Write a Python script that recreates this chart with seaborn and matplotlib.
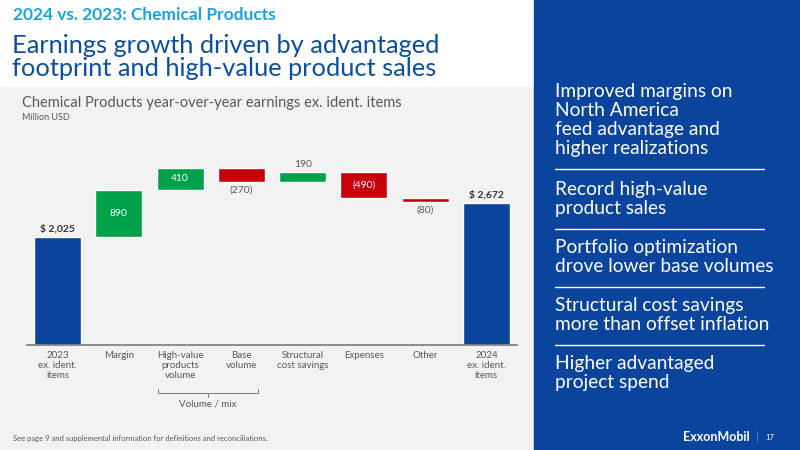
import matplotlib
matplotlib.use("Agg")
import matplotlib.pyplot as plt
import seaborn as sns
import pandas as pd
from matplotlib.patches import Rectangle

categories = ["2023\nex. ident.\nitems", "Margin", "High-value\nproducts\nvolume", "Base\nvolume",
              "Structural\ncost savings", "Expenses", "Other", "2024\nex. ident.\nitems"]
changes = [2025, 890, 410, -270, 190, -490, -80, 2672]
value_labels = ["$ 2,025", "890", "410", "(270)", "190", "(490)", "(80)", "$ 2,672"]
bullets = ["Improved margins on\nNorth America\nfeed advantage and\nhigher realizations",
           "Record high-value\nproduct sales",
           "Portfolio optimization\ndrove lower base volumes",
           "Structural cost savings\nmore than offset inflation",
           "Higher advantaged\nproject spend"]

sns.set_theme(style="white")
plt.rcParams['font.family'] = ['Lato', 'DejaVu Sans']

BLUE = "#0b449c"; GREEN = "#00a14b"; RED = "#c8000a"; GRAY = "#595959"

bottoms, heights, colors = [], [], []
run = 0
for i, c in enumerate(changes):
    if i == 0 or i == len(changes) - 1:
        bottoms.append(0); heights.append(c); colors.append(BLUE); run = c if i == 0 else run
    else:
        if c >= 0:
            bottoms.append(run); heights.append(c); colors.append(GREEN)
        else:
            bottoms.append(run + c); heights.append(-c); colors.append(RED)
        run += c

fig = plt.figure(figsize=(8, 4.5), dpi=100)
fig.patch.set_facecolor("#f2f2f2")
fig.add_artist(Rectangle((0, 1 - 86/450), 534/800, 86/450, transform=fig.transFigure, color="white", zorder=0))
fig.add_artist(Rectangle((534/800, 0), 266/800, 1, transform=fig.transFigure, color=BLUE, zorder=0))

fig.text(13/800, 1 - 15/450, "2024 vs. 2023: Chemical Products", color="#1aa3e0", fontsize=12.5,
         fontweight="bold", va="center")
fig.text(12/800, 1 - 57/450, "Earnings growth driven by advantaged\nfootprint and high-value product sales",
         color="#0a4fa0", fontsize=18.3, va="center", linespacing=0.95)
fig.text(22/800, 1 - 103/450, "Chemical Products year-over-year earnings ex. ident. items", color=GRAY, fontsize=10.5, va="center")
fig.text(22/800, 1 - 118/450, "Million USD", color=GRAY, fontsize=6.5, va="center")
fig.text(13/800, 1 - 438/450, "See page 9 and supplemental information for definitions and reconciliations.",
         color=GRAY, fontsize=5.5, va="center")

ax = fig.add_axes([27/800, 105/450, 490/800, 185/450])
ax.set_facecolor("none")
df = pd.DataFrame({"cat": categories, "h": heights})
sns.barplot(data=df, x="cat", y="h", palette=colors, hue="cat", legend=False, ax=ax, width=0.77, saturation=1)
for p, b in zip(ax.patches, bottoms):
    p.set_y(b)
ax.set_xlim(-0.5, 7.5)
ax.set_ylim(0, 3470)
ax.set_xlabel(""); ax.set_ylabel("")
ax.set_yticks([])
for s in ["top", "right", "left"]:
    ax.spines[s].set_visible(False)
ax.spines["bottom"].set_color("#7f7f7f")
ax.tick_params(axis="x", length=0, labelsize=7, colors=GRAY, pad=4)

for i, (b, h, c, lab) in enumerate(zip(bottoms, heights, changes, value_labels)):
    if i in (0, 7):
        ax.text(i, b + h + 60, lab, ha="center", va="bottom", fontsize=7.5, fontweight="bold", color="#333333")
    elif i in (1, 2, 5):
        ax.text(i, b + h/2, lab, ha="center", va="center", fontsize=7.5, color="white")
    elif c >= 0:
        ax.text(i, b + h + 60, lab, ha="center", va="bottom", fontsize=7.5, color=GRAY)
    else:
        ax.text(i, b - 60, lab, ha="center", va="top", fontsize=7.5, color=GRAY)

by = 1 - 393/450
fig.add_artist(plt.Line2D([158/800, 158/800, 258/800, 258/800], [by + 4/450, by, by, by + 4/450],
                          transform=fig.transFigure, color="#7f7f7f", lw=0.7))
fig.add_artist(plt.Line2D([208/800, 208/800], [by, by - 4/450], transform=fig.transFigure, color="#7f7f7f", lw=0.7))
fig.text(208/800, 1 - 404/450, "Volume / mix", ha="center", va="center", fontsize=7, color=GRAY)

ys = [120, 199, 257, 315, 373]
for t, y in zip(bullets, ys):
    fig.text(555/800, 1 - y/450, t, color="white", fontsize=13.8, va="center", linespacing=1.12)
for y in [169, 229, 287, 345]:
    fig.add_artist(plt.Line2D([555/800, 764/800], [1 - y/450] * 2, transform=fig.transFigure, color="white", lw=1))
fig.text(750/800, 1 - 437/450, "ExxonMobil", color="white", fontsize=9, fontweight="bold", ha="right", va="center")
fig.text(757/800, 1 - 437/450, "|", color="#1aa3e0", fontsize=8, ha="center", va="center")
fig.text(765/800, 1 - 437/450, "17", color="white", fontsize=5.5, va="center")

fig.savefig("out.png", dpi=100, facecolor=fig.get_facecolor())
